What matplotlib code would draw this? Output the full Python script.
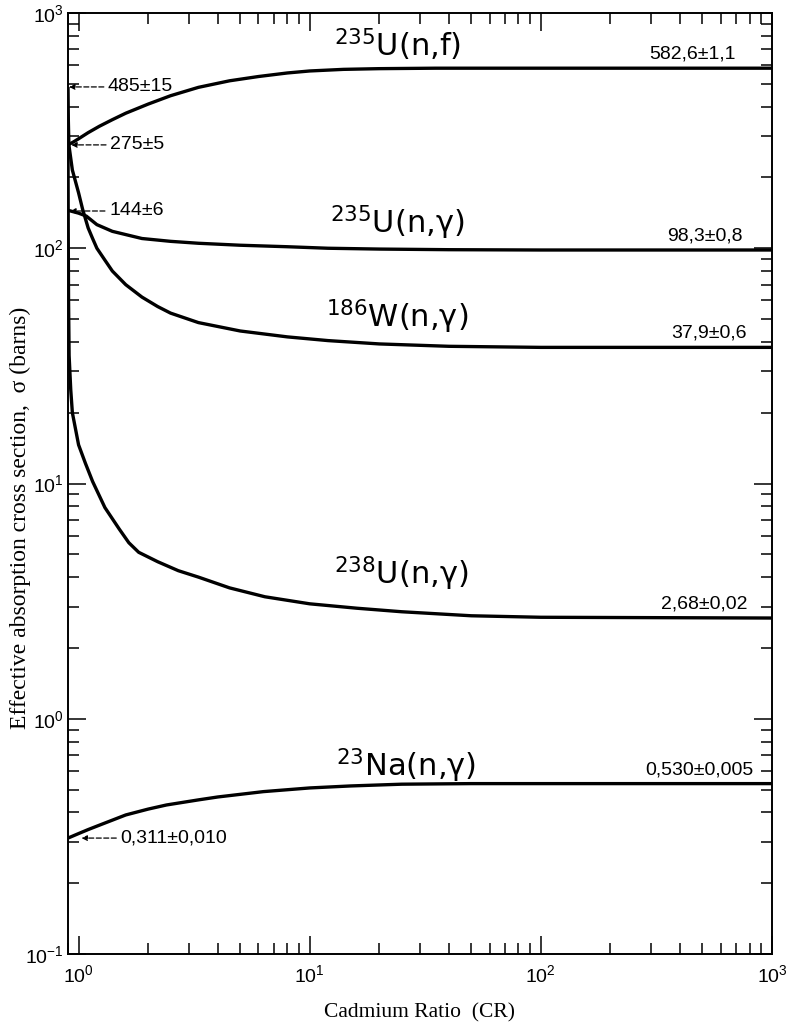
import matplotlib
matplotlib.use('Agg')
import matplotlib.pyplot as plt
from matplotlib.ticker import LogLocator, NullFormatter

# Cadmium ratio / effective cross section values
u235f_cr = [0.9, 0.95, 1.0, 1.1, 1.23, 1.4, 1.6, 2.0, 2.5, 3.3, 4.5, 6.0, 8.0, 10, 14, 20, 35, 1000]
u235f_sig = [275, 283, 292, 310, 330, 352, 375, 410, 445, 483, 515, 537, 556, 567, 576, 580, 582.6, 582.6]

u235c_cr = [0.9, 1.0, 1.08, 1.2, 1.4, 1.88, 2.5, 3.3, 5, 8, 12, 20, 40, 100, 1000]
u235c_sig = [145, 141, 137, 126, 118, 110, 107, 105, 103, 101.5, 100, 99.2, 98.6, 98.3, 98.3]

w186_cr = [0.9, 0.903, 0.908, 0.94, 1.0, 1.04, 1.1, 1.15, 1.2, 1.3, 1.4, 1.6, 1.88, 2.2, 2.5, 3.3, 5, 8, 12, 20, 40, 100, 1000]
w186_sig = [485, 350, 275, 215, 172, 147, 122, 110, 100, 89, 80, 70, 62, 56.5, 53, 48.3, 44.5, 42, 40.5, 39.2, 38.3, 37.9, 37.9]

u238_cr = [0.9, 0.902, 0.905, 0.91, 0.925, 0.94, 1.0, 1.07, 1.15, 1.3, 1.5, 1.65, 1.82, 2.2, 2.7, 3.3, 4.5, 6.4, 10, 16, 25, 50, 100, 1000]
u238_sig = [275, 120, 60, 35, 25, 20, 14.6, 12.2, 10.2, 7.9, 6.4, 5.6, 5.1, 4.65, 4.26, 4.0, 3.6, 3.3, 3.08, 2.95, 2.85, 2.74, 2.7, 2.68]

na23_cr = [0.9, 1.0, 1.1, 1.25, 1.6, 2.0, 2.4, 3.3, 4.0, 6.3, 10, 15, 25, 50, 1000]
na23_sig = [0.311, 0.325, 0.338, 0.355, 0.39, 0.413, 0.43, 0.452, 0.465, 0.49, 0.508, 0.518, 0.527, 0.53, 0.53]

curve_names = [r'$^{235}$U(n,f)', r'$^{235}$U(n,γ)', r'$^{186}$W(n,γ)', r'$^{238}$U(n,γ)', r'$^{23}$Na(n,γ)']
name_pos = [(24, 652), (24, 116), (24, 46), (25, 3.72), (26, 0.57)]
plateau_text = ['582,6±1,1', '98,3±0,8', '37,9±0,6', '2,68±0,02', '0,530±0,005']
plateau_val = [582.6, 98.3, 37.9, 2.68, 0.53]
plateau_right = [700, 750, 780, 780, 830]

start_text = ['485±15', '275±5', '144±6', '0,311±0,010']
start_tip = [(0.91, 485), (0.93, 275), (0.92, 144), (1.03, 0.311)]

plt.rcParams['mathtext.default'] = 'regular'
sans = ['Liberation Sans', 'DejaVu Sans']
serif = ['Liberation Serif', 'DejaVu Serif']

fig = plt.figure(figsize=(7.88, 10.34), dpi=100)
ax = fig.add_axes([68 / 788, 80 / 1034, 704 / 788, 941 / 1034])

for xs, ys in [(u235f_cr, u235f_sig), (u235c_cr, u235c_sig), (w186_cr, w186_sig),
               (u238_cr, u238_sig), (na23_cr, na23_sig)]:
    ax.plot(xs, ys, color='black', lw=2.4, solid_capstyle='butt', solid_joinstyle='round')

ax.set_xscale('log')
ax.set_yscale('log')
ax.set_xlim(0.9, 1000)
ax.set_ylim(0.1, 1000)

ax.xaxis.set_minor_locator(LogLocator(base=10, subs=range(2, 10), numticks=20))
ax.yaxis.set_minor_locator(LogLocator(base=10, subs=range(2, 10), numticks=20))
ax.xaxis.set_minor_formatter(NullFormatter())
ax.yaxis.set_minor_formatter(NullFormatter())
ax.set_xticks([1, 10, 100, 1000])
ax.set_xticklabels([r'$10^0$', r'$10^1$', r'$10^2$', r'$10^3$'], fontfamily=sans, fontsize=14)
ax.set_yticks([0.1, 1, 10, 100, 1000])
ax.set_yticklabels([r'$10^{-1}$', r'$10^0$', r'$10^1$', r'$10^2$', r'$10^3$'], fontfamily=sans, fontsize=14)

ax.tick_params(which='both', direction='in', top=True, right=True, width=1.1)
ax.tick_params(which='major', length=13)
ax.tick_params(which='minor', length=8)
ax.tick_params(axis='x', pad=7)
ax.tick_params(axis='y', pad=3)
for s in ax.spines.values():
    s.set_linewidth(1.4)

for name, (px, py) in zip(curve_names, name_pos):
    ax.text(px, py, name, fontsize=22, ha='center', va='baseline', fontfamily='DejaVu Sans')

for txt, val, xr in zip(plateau_text, plateau_val, plateau_right):
    ax.annotate(txt, xy=(xr, val), xytext=(0, 4), textcoords='offset points',
                ha='right', va='bottom', fontsize=14, fontfamily=sans)

for txt, tip in zip(start_text, start_tip):
    ax.annotate(txt, xy=tip, xytext=(28, 0), textcoords='offset points',
                ha='left', va='center', fontsize=14, fontfamily=sans,
                arrowprops=dict(arrowstyle='-|>', color='black', lw=0.9,
                                linestyle=(0, (4, 2)), shrinkA=1, shrinkB=0,
                                mutation_scale=8))

ax.set_xlabel('Cadmium Ratio  (CR)', fontsize=15.5, fontfamily=serif)
ax.xaxis.set_label_coords(0.5, -0.052)
ax.set_ylabel('Effective absorption cross section,  σ (barns)', fontsize=17,
              fontfamily=serif)
ax.yaxis.set_label_coords(-0.052, 0.463)

fig.savefig('out.png', dpi=100, facecolor='white')
